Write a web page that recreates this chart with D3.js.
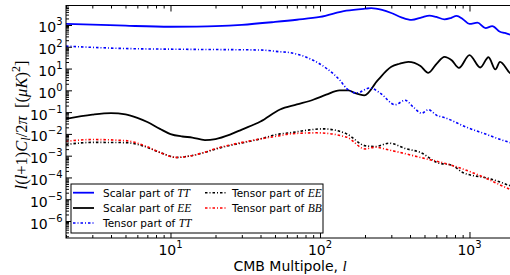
<!DOCTYPE html>
<html><head><meta charset="utf-8">
<script src="https://cdn.jsdelivr.net/npm/d3@7"></script>
<style>body{margin:0;background:#fff} svg{display:block;font-family:"DejaVu Sans",sans-serif}</style>
</head><body><svg id="c" width="510" height="275"></svg>
<script>
// ---- data ----
const scalarTT_l = [2,3,5,10,15,20,30,50,70,100,150,200,220,260,300,350,410,480,540,600,680,750,820,900,1000,1130,1280,1420,1600,1720,1900,2000];
const scalarTT_v = [1120,1050,930,830,850,890,1020,1380,1740,2340,4570,5620,5890,4900,3550,2240,1700,2240,2690,2340,1820,2090,2630,1900,1120,1290,720,890,490,430,350,316];

const scalarEE_l = [2,3,4,5,6,7,8.5,10,12,14,17,20,25,30,40,54,70,90,110,135,155,170,198,243,300,340,390,470,530,604,680,760,850,1000,1180,1340,1490,1600,1860,2000];
const scalarEE_v = [0.049,0.076,0.089,0.078,0.054,0.035,0.017,0.0098,0.0076,0.0068,0.0052,0.0058,0.0093,0.0158,0.037,0.132,0.224,0.37,0.63,1.0,1.0,0.76,0.59,2.9,12,16.6,20.4,13.2,6.3,17,34.7,24,10.7,41.7,11.2,33,9.1,20.4,6.3,4.5];

const tensorTT_l = [2,5,14,40,54,63,70,90,111,136,151,176,216,252,318,371,421,479,530,604,686,957,1236,1866,2000];
const tensorTT_v = [107,83,76,71,59,54,46,24,10,2.9,1.2,0.76,1.29,0.76,0.22,0.35,0.17,0.089,0.129,0.071,0.055,0.020,0.0107,0.004,0.0035];

const tensorEE_l = [2,3,5,6.6,8.5,11,13.8,22,40,54,63,78,105,151,200,235,290,380,470,604,775,900,1390,1866,2000];
const tensorEE_v = [0.00324,0.00407,0.00398,0.00275,0.00141,0.00083,0.0010,0.00240,0.00589,0.0100,0.0112,0.0141,0.0170,0.0100,0.00288,0.00263,0.00372,0.00204,0.00141,0.00049,0.000347,0.00017,0.000085,0.0000417,0.000035];

const tensorBB_l = [2,3,5,6.6,8.5,11,13.8,22,40,54,63,95,151,200,235,290,470,775,1180,1866,2000];
const tensorBB_v = [0.00457,0.00550,0.00490,0.00302,0.00141,0.00083,0.0010,0.00250,0.00589,0.00832,0.0100,0.0112,0.00708,0.00204,0.00245,0.00182,0.00083,0.000347,0.00012,0.0000288,0.000024];

const xTickExps = [1,2,3];
const yTickExps = [3,2,1,0,-1,-2,-3,-4,-5,-6];

const legendItems = [
  {pre:"Scalar part of ", math:"TT", key:"sTT"},
  {pre:"Scalar part of ", math:"EE", key:"sEE"},
  {pre:"Tensor part of ", math:"TT", key:"tTT"},
  {pre:"Tensor part of ", math:"EE", key:"tEE"},
  {pre:"Tensor part of ", math:"BB", key:"tBB"}
];

// ---- layout ----
const L = 66, T = 5.5, B = 238, R = 514.5;
const svg = d3.select("#c");
const x = d3.scaleLog().domain([2, 2000]).range([L, R]);
const y = d3.scaleLog().domain([Math.pow(10,-6.78), Math.pow(10,3.895)]).range([B, T]);

const styles = {
  sTT:{color:"#0000ff", dash:null, w:1.8},
  sEE:{color:"#000000", dash:null, w:1.8},
  tTT:{color:"#0000ff", dash:"2.5,2,1,2", w:1.6},
  tEE:{color:"#000000", dash:"2.5,2,1,2", w:1.6},
  tBB:{color:"#ff0000", dash:"2.5,2,1,2", w:1.6}
};
const series = [
  {key:"sTT", l:scalarTT_l, v:scalarTT_v},
  {key:"sEE", l:scalarEE_l, v:scalarEE_v},
  {key:"tTT", l:tensorTT_l, v:tensorTT_v},
  {key:"tEE", l:tensorEE_l, v:tensorEE_v},
  {key:"tBB", l:tensorBB_l, v:tensorBB_v}
];

svg.append("defs").append("clipPath").attr("id","clip")
  .append("rect").attr("x",L).attr("y",T).attr("width",R-L).attr("height",B-T);

const line = d3.line().x(d=>x(d[0])).y(d=>y(d[1])).curve(d3.curveMonotoneX);
const g = svg.append("g").attr("clip-path","url(#clip)");
series.forEach(s=>{
  const st = styles[s.key];
  g.append("path").datum(s.l.map((l,i)=>[l,s.v[i]]))
    .attr("d", line).attr("fill","none")
    .attr("stroke", st.color).attr("stroke-width", st.w)
    .attr("stroke-dasharray", st.dash);
});

// ---- axes (ticks inward) ----
const xMajor = xTickExps.map(e=>Math.pow(10,e));
const xMinor = [];
for (let e=0;e<4;e++) for (let m=2;m<10;m++){const v=m*Math.pow(10,e); if(v>=2&&v<=2000) xMinor.push(v);}
const yMajor = d3.range(-6,4).map(e=>Math.pow(10,e));
const yMinor = [];
for (let e=-7;e<4;e++) for (let m=2;m<10;m++){const v=m*Math.pow(10,e); if(v>=y.domain()[0]&&v<=y.domain()[1]) yMinor.push(v);}

function ax(gen, tr, vals, size){
  const a = svg.append("g").attr("transform",tr)
    .call(gen.tickValues(vals).tickSize(size).tickFormat(""));
  a.select(".domain").remove();
  a.selectAll("line").attr("stroke","#000").attr("stroke-width",1);
}
ax(d3.axisBottom(x), `translate(0,${B})`, xMajor, -6);
ax(d3.axisBottom(x), `translate(0,${B})`, xMinor, -3);
ax(d3.axisTop(x), `translate(0,${T})`, xMajor, -6);
ax(d3.axisTop(x), `translate(0,${T})`, xMinor, -3);
ax(d3.axisLeft(y), `translate(${L},0)`, yMajor, -6);
ax(d3.axisLeft(y), `translate(${L},0)`, yMinor, -3);

svg.append("rect").attr("x",L).attr("y",T).attr("width",R-L).attr("height",B-T)
  .attr("fill","none").attr("stroke","#000").attr("stroke-width",1);

const fmtExp = e => (e<0 ? "\u2212"+(-e) : ""+e);
// x tick labels
xTickExps.forEach(e=>{
  const t = svg.append("text").attr("x", x(Math.pow(10,e))).attr("y", 255)
    .attr("text-anchor","middle").attr("font-size",14).attr("fill","#000");
  t.append("tspan").text("10");
  t.append("tspan").attr("dy",-7).attr("font-size",10).text(fmtExp(e));
});
// y tick labels
yTickExps.forEach(e=>{
  const t = svg.append("text").attr("x", 62.5).attr("y", y(Math.pow(10,e))+7.5)
    .attr("text-anchor","end").attr("font-size",14).attr("fill","#000");
  t.append("tspan").text("10");
  t.append("tspan").attr("dy",-7).attr("font-size",10).text(fmtExp(e));
});

// x label
const xl = svg.append("text").attr("x", 290).attr("y", 270.5).attr("text-anchor","middle")
  .attr("font-size",14).attr("fill","#000");
xl.append("tspan").text("CMB Multipole, ");
xl.append("tspan").attr("font-family","'Liberation Serif',serif").attr("font-style","italic").attr("font-size",15).text("l");

// y label
const serif = "'Liberation Serif','DejaVu Serif',serif";
const yl = svg.append("text").attr("transform","translate(27,125) rotate(-90)")
  .attr("text-anchor","middle").attr("font-family",serif).attr("font-size",16.5).attr("fill","#000");
const parts = [
  {t:"l", i:1},{t:"(", i:0},{t:"l", i:1},{t:"+1)", i:0},{t:"C", i:1},
  {t:"l", i:1, sub:1},{t:"/2", i:0, back:1},{t:"\u03c0", i:1},{t:"  [(", i:0},{t:"\u03bcK", i:1},{t:")", i:0},
  {t:"2", i:0, sup:1},{t:"]", i:0, backsup:1}
];
yl.attr("xml:space","preserve").style("white-space","pre");
parts.forEach(p=>{
  const s = yl.append("tspan").text(p.t).attr("font-style", p.i?"italic":"normal");
  if (p.sub) s.attr("dy",3).attr("font-size",12);
  if (p.back) s.attr("dy",-3);
  if (p.sup) s.attr("dy",-7).attr("font-size",12);
  if (p.backsup) s.attr("dy",7);
});

// ---- legend ----
const lg = svg.append("g");
lg.append("rect").attr("x",71).attr("y",184).attr("width",252).attr("height",49)
  .attr("fill","#fff").attr("stroke","#000").attr("stroke-width",1);
const cols = [{lx:73, tx:103},{lx:205, tx:232}];
const rows = [192.7, 208, 223];
legendItems.forEach((it,i)=>{
  const c = cols[i<3?0:1], r = rows[i<3?i:i-3];
  const st = styles[it.key];
  lg.append("line").attr("x1",c.lx).attr("x2",c.lx+21).attr("y1",r).attr("y2",r)
    .attr("stroke",st.color).attr("stroke-width",st.w).attr("stroke-dasharray",st.dash);
  const t = lg.append("text").attr("x",c.tx).attr("y",r+4).attr("font-size",10.5).attr("fill","#000");
  t.append("tspan").text(it.pre);
  t.append("tspan").attr("font-family",serif).attr("font-style","italic").attr("font-size",11.5).text(it.math);
});
</script></body></html>
